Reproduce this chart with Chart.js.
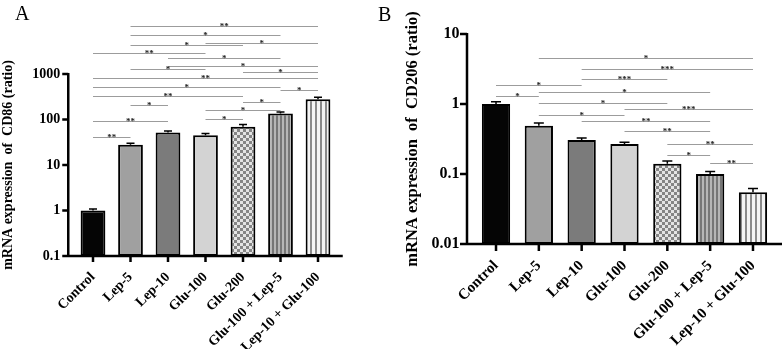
<!DOCTYPE html>
<html>
<head>
<meta charset="utf-8">
<script src="https://cdn.jsdelivr.net/npm/chart.js@4.4.1/dist/chart.umd.min.js"></script>
<style>
  html, body { margin: 0; padding: 0; background: #fff; }
  #wrap { position: relative; width: 784px; height: 349px; overflow: hidden; }
  .panel { position: absolute; top: 0; }
  .letter { position: absolute; font: 20px "Liberation Serif", serif; color: #000; }
</style>
</head>
<body>
<div id="wrap">
  <canvas id="chartA" class="panel" style="left:0" width="380" height="349"></canvas>
  <canvas id="chartB" class="panel" style="left:380px" width="404" height="349"></canvas>
  <div class="letter" style="left:15px;top:2px">A</div>
  <div class="letter" style="left:378px;top:3px">B</div>
</div>
<script>
// ── data ─────────────────────────────────
const categories = ['Control', 'Lep-5', 'Lep-10', 'Glu-100', 'Glu-200', 'Glu-100 + Lep-5', 'Lep-10 + Glu-100'];

const cd86Mean  = [1.0, 28, 52, 45, 69, 135, 280];
const cd86Upper = [1.08, 30, 56, 49, 78, 147, 308];
const cd86Ticks = [0.1, 1, 10, 100, 1000];

const cd206Mean  = [1.0, 0.49, 0.306, 0.268, 0.14, 0.10, 0.055];
const cd206Upper = [1.08, 0.535, 0.327, 0.283, 0.153, 0.109, 0.062];
const cd206Ticks = [0.01, 0.1, 1, 10];

// [from, to, label, height of the line]
const cd86Sig = [
    [1, 6, '**', 11300], [1, 5, '*', 7300], [3, 6, '*', 4870], [1, 4, '*', 4340],
    [0, 3, '**', 2850], [2, 5, '*', 2280], [2, 6, '*', 1500], [1, 3, '*', 1310],
    [4, 6, '*', 1110], [0, 6, '**', 817], [0, 5, '*', 510], [5, 6, '*', 438],
    [0, 4, '**', 324], [4, 5, '*', 243], [1, 2, '*', 205], [3, 5, '*', 159],
    [3, 4, '*', 104], [0, 2, '**', 91], [0, 1, '**', 41]
];
const cd206Sig = [
    [1, 6, '*', 4.5], [2, 6, '***', 3.13], [2, 4, '***', 2.25], [0, 2, '*', 1.89],
    [1, 5, '*', 1.50], [0, 1, '*', 1.29], [1, 4, '*', 1.02], [3, 6, '***', 0.84],
    [1, 3, '*', 0.69], [2, 5, '**', 0.57], [3, 5, '**', 0.41], [4, 6, '**', 0.265],
    [4, 5, '*', 0.187], [5, 6, '**', 0.142]
];

const FONT = '"Liberation Serif", "Times New Roman", serif';

// ── fills ────────────────────────────────
function tile(w, h, draw) {
    const c = document.createElement('canvas');
    c.width = w; c.height = h;
    draw(c.getContext('2d'));
    return c;
}

function makeFills(ctx) {
    const checker = ctx.createPattern(tile(6, 6, t => {
        t.fillStyle = '#e4e4e4'; t.fillRect(0, 0, 6, 6);
        t.fillStyle = '#858585'; t.fillRect(0, 0, 3, 3); t.fillRect(3, 3, 3, 3);
    }), 'repeat');
    const stripes = ctx.createPattern(tile(4, 1, t => {
        t.fillStyle = '#b6b6b6'; t.fillRect(0, 0, 4, 1);
        t.fillStyle = '#767676'; t.fillRect(0, 0, 2, 1);
    }), 'repeat');
    const stripesLight = ctx.createPattern(tile(5, 1, t => {
        t.fillStyle = '#f4f4f4'; t.fillRect(0, 0, 5, 1);
        t.fillStyle = '#8a8a8a'; t.fillRect(0, 0, 2, 1);
    }), 'repeat');
    return ['#050505', '#a0a0a0', '#7b7b7b', '#d3d3d3', checker, stripes, stripesLight];
}

// ── plugins ──────────────────────────────
const axesPlugin = {
    id: 'axes',
    afterDraw(chart, args, o) {
        const { ctx, chartArea: a, scales: { x, y } } = chart;
        const x0 = a.left - o.gap;
        ctx.save();
        ctx.strokeStyle = '#000';
        ctx.lineWidth = o.width;
        ctx.beginPath();
        ctx.moveTo(x0, a.top - 1);
        ctx.lineTo(x0, a.bottom);
        ctx.lineTo(a.right + o.gap, a.bottom);
        y.ticks.forEach(t => {
            const py = y.getPixelForValue(t.value);
            ctx.moveTo(x0 - o.tick, py); ctx.lineTo(x0, py);
        });
        categories.forEach((c, i) => {
            const px = x.getPixelForValue(i);
            ctx.moveTo(px, a.bottom); ctx.lineTo(px, a.bottom + o.tick);
        });
        ctx.stroke();
        ctx.restore();
    }
};

const errPlugin = {
    id: 'errbars',
    afterDatasetsDraw(chart, args, o) {
        const { ctx, scales: { y } } = chart;
        ctx.save();
        ctx.strokeStyle = '#000';
        ctx.lineWidth = 1.5;
        ctx.beginPath();
        chart.getDatasetMeta(0).data.forEach((bar, i) => {
            const top = y.getPixelForValue(o.upper[i]);
            ctx.moveTo(bar.x, bar.y); ctx.lineTo(bar.x, top);
            ctx.moveTo(bar.x - o.cap, top); ctx.lineTo(bar.x + o.cap, top);
        });
        ctx.stroke();
        ctx.restore();
    }
};

const sigPlugin = {
    id: 'sig',
    afterDatasetsDraw(chart, args, o) {
        const { ctx, scales: { x, y } } = chart;
        ctx.save();
        ctx.strokeStyle = '#9c9c9c';
        ctx.lineWidth = 1;
        ctx.fillStyle = '#222';
        ctx.font = `bold ${o.size}px ${FONT}`;
        ctx.textAlign = 'center';
        ctx.textBaseline = 'alphabetic';
        o.list.forEach(([a, b, label, h]) => {
            const x1 = x.getPixelForValue(a), x2 = x.getPixelForValue(b);
            const py = Math.round(y.getPixelForValue(h)) + 0.5;
            ctx.beginPath();
            ctx.moveTo(x1, py); ctx.lineTo(x2, py);
            ctx.stroke();
            ctx.fillText(label, (x1 + x2) / 2, py + 2);
        });
        ctx.restore();
    }
};

// ── charts ───────────────────────────────
function buildChart(id, d) {
    const ctx = document.getElementById(id).getContext('2d');
    return new Chart(ctx, {
        type: 'bar',
        data: {
            labels: categories,
            datasets: [{
                data: d.means,
                backgroundColor: makeFills(ctx),
                borderColor: '#000',
                borderWidth: 2,
                borderSkipped: false,
                barPercentage: 0.66,
                categoryPercentage: 1
            }]
        },
        options: {
            responsive: false,
            animation: false,
            layout: { padding: { top: d.padTop, right: d.padRight, left: 0, bottom: 0 } },
            plugins: {
                legend: { display: false },
                tooltip: { enabled: false },
                axes: { gap: d.gap, tick: d.tick, width: 2.5 },
                errbars: { upper: d.upper, cap: d.cap },
                sig: { list: d.sig, size: 9 }
            },
            scales: {
                x: {
                    grid: { display: false, drawTicks: false },
                    border: { display: false },
                    ticks: {
                        color: '#000', autoSkip: false, minRotation: 45, maxRotation: 45,
                        padding: d.xPad, font: { family: FONT, size: d.xLabelSize, weight: 'bold' }
                    },
                    afterFit: s => { s.height = d.xHeight; }
                },
                y: {
                    type: 'logarithmic',
                    min: d.ticks[0], max: d.ticks[d.ticks.length - 1],
                    grid: { display: false, drawTicks: false },
                    border: { display: false },
                    ticks: {
                        color: '#000', padding: d.yPad,
                        font: { family: FONT, size: d.yLabelSize, weight: 'bold' },
                        callback: v => String(v)
                    },
                    afterBuildTicks: s => { s.ticks = d.ticks.map(v => ({ value: v })); },
                    afterFit: s => { s.width = d.yWidth; },
                    title: {
                        display: true, text: d.title, color: '#000',
                        font: { family: FONT, size: d.titleSize, weight: 'bold' },
                        padding: { top: d.titlePad, bottom: 0 }
                    }
                }
            }
        },
        plugins: [axesPlugin, errPlugin, sigPlugin]
    });
}

buildChart('chartA', {
    means: cd86Mean, upper: cd86Upper, ticks: cd86Ticks, sig: cd86Sig,
    title: 'mRNA expression  of  CD86 (ratio)',
    padTop: 74, padRight: 43.25, yWidth: 74.25, xHeight: 93,
    gap: 6, tick: 6, cap: 4, xLabelSize: 14, yLabelSize: 14, titleSize: 14, titlePad: 0, xPad: 13, yPad: 14
});

buildChart('chartB', {
    means: cd206Mean, upper: cd206Upper, ticks: cd206Ticks, sig: cd206Sig,
    title: 'mRNA expression  of  CD206 (ratio)',
    padTop: 34, padRight: 9.6, yWidth: 94.6, xHeight: 105,
    gap: 7.6, tick: 7, cap: 5, xLabelSize: 15, yLabelSize: 16, titleSize: 16.5, titlePad: 23, xPad: 13, yPad: 15
});
</script>
</body>
</html>
